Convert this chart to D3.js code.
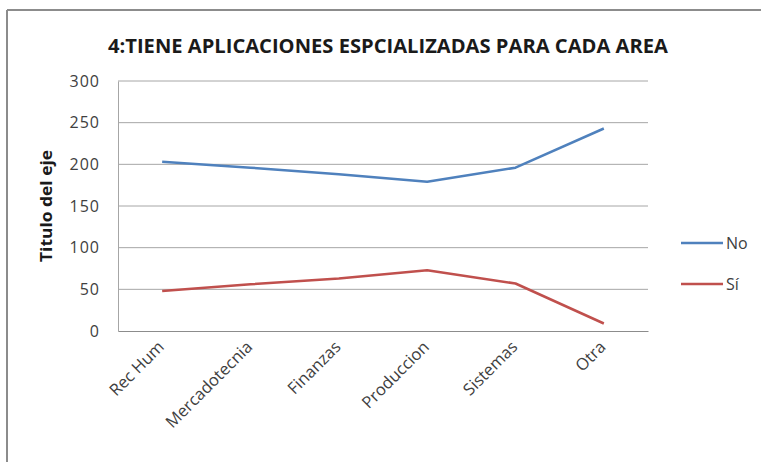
<!DOCTYPE html>
<html><head><meta charset="utf-8">
<script src="https://cdn.jsdelivr.net/npm/d3@7"></script>
<style>body{margin:0;background:#fff;} text{font-family:"Open Sans","Liberation Sans",sans-serif;}</style>
</head><body>
<svg id="c" width="761" height="462"></svg>
<script>
const categories = ["Rec Hum","Mercadotecnia","Finanzas","Produccion","Sistemas","Otra"];
const seriesNames = ["No","Sí"];
const noValues = [203,196,188,179,196,243];
const siValues = [48,56,63,73,57,9];
const yTicks = [0,50,100,150,200,250,300];
const colors = ["#4F81BD","#C0504D"];
const titleText = "4:TIENE APLICACIONES ESPCIALIZADAS PARA CADA AREA";
const yTitle = "Titulo del eje";

const svg = d3.select("#c");
// outer frame
svg.append("line").attr("x1",7).attr("x2",761).attr("y1",10).attr("y2",10).attr("stroke","#8c8c8c").attr("stroke-width",2);
svg.append("line").attr("x1",7).attr("x2",7).attr("y1",10).attr("y2",462).attr("stroke","#8c8c8c").attr("stroke-width",2);

const L=118,R=648,T=81,B=331;
const x = d3.scaleBand().domain(categories).range([L,R]);
const y = d3.scaleLinear().domain([0,300]).range([B,T]);

// gridlines
svg.append("g").selectAll("line").data(yTicks.filter(d=>d>0)).join("line")
  .attr("x1",L).attr("x2",R).attr("y1",d=>y(d)).attr("y2",d=>y(d))
  .attr("stroke","#a6a6a6").attr("stroke-width",1);

// y axis
const yAxis = d3.axisLeft(y).tickValues(yTicks).tickSize(0).tickPadding(18);
const gy = svg.append("g").attr("transform",`translate(${L},0)`).call(yAxis);
gy.select(".domain").attr("stroke","#a6a6a6");
gy.selectAll("text").attr("font-size",16).attr("fill","#404040").attr("letter-spacing",1);

// x axis
const xAxis = d3.axisBottom(x).tickSize(0).tickPadding(0);
const gx = svg.append("g").attr("transform",`translate(0,${B})`).call(xAxis);
gx.select(".domain").attr("stroke","#8c8c8c");
gx.selectAll("text").attr("font-size",16.5).attr("fill","#404040")
  .attr("text-anchor","end").attr("dy",0)
  .attr("transform","translate(3,17) rotate(-45)");

// lines
const data = [noValues, siValues];
const line = d3.line().x((d,i)=>x(categories[i])+x.bandwidth()/2).y(d=>y(d));
svg.append("g").selectAll("path").data(data).join("path")
  .attr("d",line).attr("fill","none")
  .attr("stroke",(d,i)=>colors[i]).attr("stroke-width",2.5).attr("stroke-linejoin","round");

// title
svg.append("text").attr("x",388).attr("y",53).attr("text-anchor","middle")
  .attr("font-size",20).attr("font-weight","bold").attr("fill","#1a1a1a")
  .attr("textLength",560).attr("lengthAdjust","spacingAndGlyphs").text(titleText);

// y title
svg.append("text").attr("transform","translate(52,206) rotate(-90)").attr("text-anchor","middle")
  .attr("font-size",16).attr("font-weight","bold").attr("fill","#1a1a1a")
  .attr("textLength",112).attr("lengthAdjust","spacingAndGlyphs").text(yTitle);

// legend
const lg = svg.append("g").selectAll("g").data(seriesNames).join("g")
  .attr("transform",(d,i)=>`translate(681,${243+i*41})`);
lg.append("line").attr("x1",0).attr("x2",42).attr("stroke",(d,i)=>colors[i]).attr("stroke-width",2.5);
lg.append("text").attr("x",45).attr("dy","0.35em").attr("font-size",16).attr("fill","#404040").text(d=>d);
</script>
</body></html>
